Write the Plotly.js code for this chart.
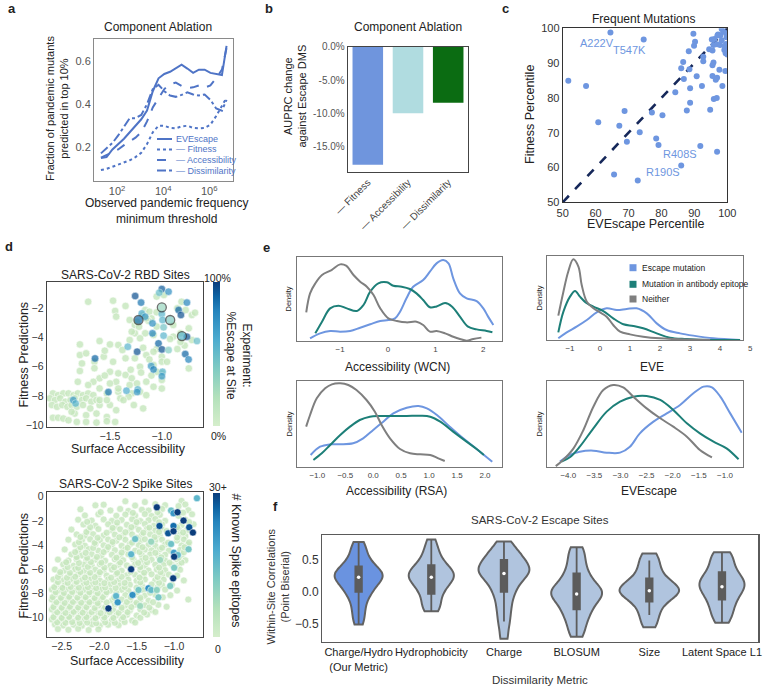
<!DOCTYPE html>
<html><head><meta charset="utf-8">
<script src="https://cdn.plot.ly/plotly-3.0.1.min.js"></script>
<style>html,body{margin:0;padding:0;background:#fff}#chart{width:771px;height:691px}</style>
</head><body><div id="chart"></div>
<script>
// ================= DATA =================
// (a) Component ablation: fraction of pandemic mutants predicted in top 10%
const thresholds = [20,35,63,112,200,355,631,1122,1995,3548,6310,11220,19953,35481,63096,112202,199526,354813,630957,1122018,1995262,3548134,5623413];
const fracEVEscape = [0.15,0.155,0.19,0.215,0.24,0.27,0.30,0.33,0.37,0.46,0.52,0.54,0.55,0.565,0.583,0.565,0.545,0.56,0.56,0.545,0.54,0.535,0.67];
const fracNoFitness = [0.095,0.10,0.11,0.12,0.13,0.14,0.155,0.175,0.215,0.27,0.30,0.30,0.29,0.288,0.297,0.30,0.29,0.288,0.29,0.305,0.345,0.395,0.43];
const fracNoAccessibility = [0.152,0.165,0.18,0.19,0.21,0.228,0.245,0.27,0.32,0.385,0.43,0.47,0.492,0.50,0.485,0.475,0.478,0.487,0.476,0.487,0.52,0.56,0.66];
const fracNoDissimilarity = [0.172,0.195,0.22,0.255,0.295,0.335,0.335,0.35,0.40,0.47,0.49,0.46,0.44,0.434,0.443,0.455,0.445,0.44,0.445,0.42,0.38,0.37,0.42];
const ablationLabels = ['EVEscape','— Fitness','— Accessibility','— Dissimilarity'];

// (b) AUPRC change
const auprcCats = ['— Fitness','— Accessibility','— Dissimilarity'];
const auprcChange = [-17.7,-10.0,-8.4];

// (c) Frequent mutations [EVEscape percentile, Fitness percentile]
const freqMutations = [[51.7,84.9],[57.1,83.4],[60.8,73.0],[64.5,98.8],[65.6,58.0],[67.2,72.0],[68.8,76.2],[69.5,67.4],[73.4,70.1],[72.8,56.3],[74.6,96.8],[77.1,75.8],[78.4,68.3],[79.1,66.5],[80.3,75.0],[84.2,81.6],[86.0,60.6],[86.0,88.5],[86.6,90.3],[86.8,85.4],[87.7,76.4],[88.3,93.4],[88.5,88.2],[88.7,82.8],[88.7,78.6],[89.7,98.4],[89.9,95.0],[90.2,96.1],[90.7,86.2],[91.8,66.2],[92.3,83.4],[92.7,90.5],[92.7,91.8],[94.8,76.6],[94.5,94.0],[95.3,96.8],[95.5,93.6],[95.5,89.4],[95.5,86.3],[95.8,90.2],[95.9,79.7],[96.5,85.2],[96.8,80.0],[96.9,85.8],[96.9,64.5],[96.9,95.4],[97.2,98.2],[97.6,88.1],[97.9,98.0],[97.8,95.2],[98.3,99.8],[98.3,96.6],[98.5,83.4],[98.8,99.0],[99.1,93.8],[99.4,87.7],[99.5,92.8],[99.6,95.5],[99.7,98.6],[99.8,97.4],[99.3,94.6],[100,92.5],[96.1,96.9],[97.0,97.9],[95.8,95.2]];
const mutLabels = ['A222V','T547K','R408S','R190S'];
const mutLabelX = [60.4,70.4,85.6,80.4];
const mutLabelY = [95.9,93.8,63.9,58.6];
const diagonal = [50,100];

// (d) RBD sites: [surface accessibility, fitness prediction]
const rbdLight = [[-1.71,-1.55],[-1.47,-1.48],[-1.35,-1.84],[-1.45,-2.18],[-1.44,-2.57],[-1.05,-1.20],[-0.98,-1.09],[-0.81,-1.55],[-0.71,-2.46],[-0.77,-2.12],[-0.68,-2.30],[-1.31,-2.80],[-1.16,-2.12],[-1.12,-2.23],[-1.18,-2.46],[-1.05,-2.27],[-1.10,-2.69],[-0.85,-2.00],[-1.13,-2.85],[-1.26,-3.14],[-1.24,-2.92],[-1.15,-2.69],[-1.22,-3.26],[-1.26,-3.71],[-1.16,-3.71],[-1.05,-3.25],[-0.89,-3.14],[-0.74,-3.37],[-0.71,-4.17],[-0.82,-3.71],[-0.89,-3.94],[-1.08,-3.83],[-1.29,-3.60],[-0.85,-4.79],[-1.05,-4.79],[-1.00,-5.31],[-1.00,-5.65],[-1.00,-6.45],[-1.00,-6.90],[-1.21,-6.00],[-1.26,-5.42],[-1.15,-5.20],[-1.08,-4.97],[-1.21,-4.05],[-1.31,-4.17],[-1.42,-4.51],[-1.50,-4.47],[-1.60,-4.24],[-1.79,-4.47],[-1.79,-5.20],[-1.73,-5.08],[-1.77,-5.77],[-1.65,-5.66],[-1.56,-5.31],[-1.47,-5.66],[-1.35,-5.42],[-1.50,-6.34],[-1.42,-6.45],[-1.35,-6.56],[-1.29,-6.79],[-1.24,-7.14],[-1.15,-7.02],[-1.08,-7.37],[-1.00,-7.49],[-1.44,-7.03],[-1.50,-7.14],[-1.60,-6.79],[-1.66,-7.03],[-1.71,-7.25],[-1.81,-7.03],[-1.79,-6.29],[-1.60,-7.48],[-1.53,-7.82],[-1.42,-7.71],[-1.29,-7.82],[-1.21,-7.71],[-1.15,-7.94],[-1.32,-8.05],[-1.40,-8.16],[-2.05,-7.82],[-2.00,-7.94],[-1.95,-7.82],[-1.90,-7.82],[-1.85,-7.94],[-1.81,-7.82],[-1.76,-7.94],[-1.71,-7.82],[-1.66,-7.94],[-2.08,-8.16],[-2.03,-8.28],[-1.98,-8.16],[-1.93,-8.39],[-1.88,-8.28],[-1.84,-8.16],[-1.77,-8.28],[-1.73,-8.16],[-1.68,-8.39],[-1.63,-8.28],[-2.06,-8.62],[-2.01,-8.74],[-1.96,-8.62],[-1.91,-8.74],[-1.87,-8.62],[-1.82,-8.74],[-1.76,-8.62],[-1.69,-8.85],[-1.60,-8.62],[-1.50,-8.62],[-1.44,-8.97],[-1.27,-8.62],[-1.18,-8.85],[-1.73,-9.31],[-1.63,-9.20],[-1.53,-9.43],[-1.84,-9.20],[-2.05,-9.49],[-2.00,-9.49],[-1.95,-9.54],[-1.90,-9.66],[-1.82,-9.77],[-1.73,-9.77],[-1.63,-9.82],[-1.53,-9.72],[-1.45,-9.77],[-1.87,-9.08],[-1.60,-8.28],[-1.53,-8.28],[-1.37,-8.28],[-1.42,-7.49],[-1.31,-7.25],[-1.08,-5.88],[-1.05,-6.34],[-0.95,-5.66],[-0.74,-6.11],[-0.78,-4.55],[-0.82,-4.30],[-1.18,-4.70],[-1.38,-4.85],[-1.55,-4.90],[-1.65,-6.10],[-1.55,-6.60],[-1.20,-6.40],[-1.10,-6.60],[-1.30,-6.20],[-1.12,-5.50],[-0.92,-4.10]];
// [x, y, fraction escape at site (0-1), highlighted 0/1]
const rbdEscape = [[-1.00,-0.68,0.92,0],[-1.025,-0.93,0.5,0],[-0.935,-0.86,0.75,0],[-1.257,-1.16,0.95,0],[-1.20,-1.61,0.85,0],[-1.193,-2.35,0.6,0],[-1.161,-2.57,0.7,0],[-1.09,-3.03,0.75,0],[-1.00,-2.39,0.55,0],[-0.993,-2.80,0.55,0],[-1.09,-3.71,0.8,0],[-0.983,-3.30,0.45,0],[-0.983,-3.87,0.55,0],[-1.032,-4.40,0.9,0],[-0.999,-4.81,0.95,0],[-0.935,-4.86,0.4,0],[-1.238,-4.97,0.95,0],[-1.328,-4.63,0.55,0],[-1.103,-5.95,0.7,0],[-1.08,-6.18,0.8,0],[-0.993,-6.34,0.55,0],[-0.999,-6.64,0.7,0],[-0.838,-2.12,0.9,0],[-0.816,-2.46,0.95,0],[-0.758,-1.61,0.8,0],[-0.758,-3.94,0.95,0],[-0.774,-5.13,0.9,0],[-0.742,-5.50,0.8,0],[-1.644,-5.43,0.9,0],[-1.515,-7.73,0.85,0],[-1.341,-7.64,0.6,0],[-1.232,-7.55,0.55,0],[-1.238,-7.73,0.7,0],[-1.854,-8.28,0.7,0],[-1.831,-8.51,0.55,0],[-0.661,-4.24,0.5,0],[-1.225,-2.80,0.88,1],[-1.00,-1.93,0.3,1],[-0.919,-2.80,0.4,1],[-0.806,-3.90,0.55,1]];

// (d) Spike sites
const spikeLight = [[-1.65,-0.38],[-1.39,-0.45],[-0.90,-0.35],[-2.05,-0.72],[-1.94,-0.66],[-1.52,-0.74],[-1.25,-0.62],[-1.12,-0.70],[-0.94,-0.78],[-0.85,-0.65],[-2.25,-1.05],[-1.85,-1.14],[-1.72,-1.02],[-1.61,-1.18],[-1.43,-1.08],[-1.34,-1.15],[-1.16,-1.02],[-0.81,-1.12],[-2.19,-1.55],[-2.01,-1.45],[-1.77,-1.58],[-1.65,-1.48],[-1.52,-1.56],[-1.39,-1.44],[-1.30,-1.60],[-1.19,-1.50],[-0.94,-1.58],[-0.76,-1.46],[-2.28,-1.90],[-2.10,-1.98],[-1.94,-1.88],[-1.83,-2.00],[-1.70,-1.92],[-1.56,-1.86],[-1.45,-2.02],[-1.34,-1.95],[-1.25,-1.85],[-1.12,-2.00],[-0.85,-1.90],[-2.21,-2.30],[-2.05,-2.40],[-1.88,-2.28],[-1.77,-2.42],[-1.63,-2.32],[-1.52,-2.38],[-1.39,-2.26],[-1.27,-2.40],[-1.16,-2.30],[-0.90,-2.35],[-0.74,-2.28],[-2.37,-2.72],[-2.14,-2.80],[-2.01,-2.68],[-1.83,-2.78],[-1.72,-2.70],[-1.59,-2.82],[-1.47,-2.74],[-1.36,-2.66],[-1.25,-2.80],[-1.16,-2.72],[-1.10,-2.84],[-0.94,-2.70],[-0.83,-2.78],[-2.30,-3.12],[-2.19,-3.22],[-2.08,-3.10],[-1.94,-3.20],[-1.79,-3.14],[-1.68,-3.24],[-1.56,-3.12],[-1.43,-3.18],[-1.32,-3.10],[-1.19,-3.22],[-0.92,-3.15],[-0.85,-3.25],[-2.41,-3.55],[-2.23,-3.62],[-2.12,-3.52],[-1.99,-3.60],[-1.88,-3.54],[-1.77,-3.64],[-1.65,-3.56],[-1.45,-3.62],[-1.39,-3.52],[-1.25,-3.60],[-1.16,-3.55],[-0.96,-3.62],[-0.87,-3.54],[-2.32,-3.95],[-2.19,-4.05],[-2.05,-3.92],[-1.94,-4.02],[-1.83,-3.96],[-1.70,-4.06],[-1.59,-3.94],[-1.47,-4.02],[-1.34,-3.98],[-1.25,-4.08],[-1.12,-3.96],[-0.90,-4.04],[-0.81,-3.94],[-2.46,-4.36],[-2.28,-4.44],[-2.14,-4.34],[-2.01,-4.46],[-1.90,-4.38],[-1.79,-4.42],[-1.65,-4.34],[-1.52,-4.46],[-1.39,-4.38],[-1.30,-4.44],[-1.19,-4.36],[-1.07,-4.46],[-0.92,-4.40],[-2.37,-4.78],[-2.23,-4.86],[-2.10,-4.76],[-1.97,-4.88],[-1.83,-4.80],[-1.72,-4.86],[-1.61,-4.76],[-1.43,-4.84],[-1.32,-4.78],[-1.21,-4.88],[-1.12,-4.80],[-0.90,-4.86],[-2.55,-5.20],[-2.41,-5.28],[-2.30,-5.18],[-2.17,-5.26],[-2.05,-5.20],[-1.92,-5.30],[-1.79,-5.18],[-1.68,-5.26],[-1.54,-5.20],[-1.43,-5.30],[-1.30,-5.22],[-1.12,-5.28],[-0.96,-5.20],[-0.85,-5.26],[-2.48,-5.60],[-2.34,-5.70],[-2.21,-5.62],[-2.10,-5.68],[-1.99,-5.58],[-1.85,-5.70],[-1.74,-5.62],[-1.63,-5.68],[-1.52,-5.60],[-1.39,-5.70],[-1.25,-5.62],[-1.14,-5.66],[-1.03,-5.60],[-0.94,-5.70],[-2.59,-6.02],[-2.46,-6.10],[-2.32,-6.00],[-2.19,-6.12],[-2.05,-6.04],[-1.94,-6.10],[-1.83,-6.02],[-1.70,-6.12],[-1.45,-6.04],[-1.34,-6.10],[-1.23,-6.02],[-1.12,-6.08],[-0.92,-6.04],[-2.52,-6.44],[-2.39,-6.52],[-2.28,-6.42],[-2.14,-6.50],[-2.01,-6.44],[-1.90,-6.52],[-1.77,-6.42],[-1.63,-6.50],[-1.52,-6.46],[-1.41,-6.54],[-1.30,-6.42],[-1.16,-6.50],[-1.07,-6.44],[-0.96,-6.52],[-2.61,-6.84],[-2.48,-6.92],[-2.37,-6.82],[-2.23,-6.90],[-2.12,-6.86],[-1.99,-6.94],[-1.88,-6.84],[-1.74,-6.92],[-1.61,-6.86],[-1.50,-6.94],[-1.39,-6.84],[-1.25,-6.90],[-1.14,-6.86],[-0.87,-6.92],[-2.57,-7.26],[-2.46,-7.34],[-2.32,-7.24],[-2.21,-7.32],[-2.10,-7.28],[-1.99,-7.36],[-1.85,-7.26],[-1.72,-7.34],[-1.59,-7.28],[-1.43,-7.34],[-1.30,-7.26],[-1.16,-7.32],[-1.03,-7.28],[-2.63,-7.68],[-2.52,-7.76],[-2.41,-7.66],[-2.30,-7.74],[-2.19,-7.70],[-2.08,-7.78],[-1.97,-7.68],[-1.85,-7.76],[-1.70,-7.70],[-1.61,-7.78],[-1.41,-7.72],[-1.12,-7.68],[-0.96,-7.76],[-2.59,-8.10],[-2.48,-8.18],[-2.37,-8.08],[-2.25,-8.16],[-2.14,-8.10],[-2.03,-8.18],[-1.92,-8.08],[-1.65,-8.14],[-1.52,-8.08],[-1.39,-8.18],[-1.25,-8.10],[-1.05,-8.14],[-2.63,-8.50],[-2.52,-8.58],[-2.41,-8.48],[-2.30,-8.56],[-2.19,-8.52],[-2.08,-8.60],[-1.97,-8.50],[-1.83,-8.58],[-1.70,-8.50],[-1.59,-8.56],[-1.45,-8.52],[-1.34,-8.60],[-0.81,-8.50],[-2.59,-8.92],[-2.48,-9.00],[-2.37,-8.90],[-2.25,-8.98],[-2.14,-8.92],[-2.01,-9.00],[-1.79,-8.94],[-1.65,-9.00],[-1.52,-8.92],[-1.39,-8.98],[-1.21,-8.94],[-2.63,-9.32],[-2.52,-9.40],[-2.41,-9.30],[-2.30,-9.38],[-2.19,-9.34],[-2.05,-9.42],[-1.94,-9.32],[-1.81,-9.40],[-1.70,-9.34],[-1.59,-9.40],[-1.45,-9.32],[-1.30,-9.38],[-2.59,-9.74],[-2.48,-9.82],[-2.37,-9.72],[-2.25,-9.80],[-2.14,-9.76],[-2.01,-9.84],[-1.90,-9.74],[-1.77,-9.80],[-1.63,-9.76],[-1.50,-9.82],[-1.36,-9.74],[-2.63,-10.15],[-2.52,-10.24],[-2.41,-10.14],[-2.30,-10.22],[-2.19,-10.16],[-2.08,-10.24],[-1.94,-10.14],[-1.83,-10.22],[-1.70,-10.16],[-1.56,-10.24],[-2.59,-10.56],[-2.48,-10.64],[-2.34,-10.58],[-2.23,-10.66],[-2.10,-10.56],[-1.99,-10.64],[-1.88,-10.58],[-1.74,-10.62],[-2.55,-10.94],[-2.41,-11.00],[-2.28,-10.92],[-2.14,-11.02],[-2.01,-10.96],
[-2.56,-10.38],[-2.45,-10.42],[-2.36,-10.36],[-2.26,-10.44],[-2.16,-10.40],[-2.04,-10.46],[-1.92,-10.38],[-1.79,-10.42],[-1.66,-10.36],[-1.52,-10.40],[-2.61,-9.96],[-2.50,-10.02],[-2.40,-9.94],[-2.28,-10.00],[-2.17,-9.96],[-2.05,-10.04],[-1.93,-9.98],[-1.81,-10.02],[-1.68,-9.96],[-1.45,-10.00],[-2.56,-9.55],[-2.45,-9.60],[-2.34,-9.52],[-2.22,-9.58],[-2.10,-9.54],[-1.98,-9.62],[-1.86,-9.55],[-1.74,-9.60],[-1.62,-9.54],[-1.40,-9.58],[-1.25,-9.52],[-2.61,-9.12],[-2.50,-9.18],[-2.39,-9.10],[-2.28,-9.16],[-2.17,-9.12],[-2.06,-9.20],[-1.92,-9.14],[-1.70,-9.18],[-1.57,-9.12],[-1.33,-9.16],[-1.10,-9.10],[-2.57,-8.72],[-2.46,-8.78],[-2.35,-8.70],[-2.24,-8.76],[-2.13,-8.72],[-2.02,-8.80],[-1.90,-8.74],[-1.76,-8.78],[-1.63,-8.70],[-1.50,-8.76],[-1.28,-8.72],[-2.62,-8.30],[-2.51,-8.36],[-2.40,-8.28],[-2.29,-8.34],[-2.18,-8.30],[-2.06,-8.38],[-1.95,-8.30],[-1.80,-8.34],[-1.58,-8.30],[-1.45,-8.36],[-1.15,-8.32],[-2.58,-7.90],[-2.47,-7.96],[-2.36,-7.88],[-2.25,-7.94],[-2.13,-7.90],[-2.02,-7.98],[-1.90,-7.90],[-1.77,-7.94],[-1.50,-7.90],[-1.32,-7.94],[-2.60,-7.48],[-2.49,-7.54],[-2.38,-7.46],[-2.27,-7.52],[-2.15,-7.48],[-2.04,-7.56],[-1.92,-7.50],[-1.78,-7.54],[-1.66,-7.46],[-1.50,-7.52],[-1.22,-7.50],[-2.55,-7.06],[-2.42,-7.12],[-2.30,-7.04],[-2.17,-7.10],[-2.05,-7.08],[-1.93,-7.14],[-1.80,-7.06],[-1.66,-7.12],[-1.45,-7.08],[-1.20,-7.12],[-2.55,-6.64],[-2.43,-6.70],[-2.32,-6.62],[-2.19,-6.68],[-2.06,-6.64],[-1.84,-6.70],[-1.70,-6.62],[-1.46,-6.68],[-1.22,-6.64],[-1.02,-6.70],[-2.52,-6.24],[-2.39,-6.30],[-2.25,-6.22],[-2.12,-6.28],[-1.99,-6.24],[-1.76,-6.30],[-1.58,-6.22],[-1.40,-6.28],[-1.18,-6.24],[-2.42,-5.82],[-2.28,-5.88],[-2.15,-5.80],[-1.93,-5.86],[-1.80,-5.84],[-1.58,-5.88],[-1.45,-5.82],[-1.20,-5.86],[-0.99,-5.82],[-2.44,-5.42],[-2.27,-5.48],[-2.11,-5.40],[-1.97,-5.46],[-1.72,-5.44],[-1.48,-5.48],[-1.36,-5.42],[-1.06,-5.46],[-0.90,-5.44],[-2.30,-5.00],[-2.16,-5.06],[-2.03,-4.98],[-1.77,-5.04],[-1.56,-5.00],[-1.38,-5.06],[-1.17,-5.02],[-0.94,-5.04],[-2.32,-4.58],[-2.18,-4.64],[-1.94,-4.58],[-1.70,-4.62],[-1.46,-4.58],[-1.25,-4.64],[-0.87,-4.60],[-2.25,-4.18],[-2.08,-4.24],[-1.88,-4.16],[-1.62,-4.22],[-1.42,-4.18],[-1.16,-4.22],[-0.86,-4.18],[-2.27,-3.76],[-2.06,-3.82],[-1.82,-3.74],[-1.56,-3.80],[-1.30,-3.76],[-1.08,-3.80],[-0.80,-3.78],[-2.25,-3.34],[-2.02,-3.40],[-1.73,-3.36],[-1.50,-3.40],[-1.26,-3.34],[-0.96,-3.38],[-2.17,-2.92],[-1.90,-2.98],[-1.65,-2.94],[-1.41,-2.98],[-1.20,-2.92],[-0.88,-2.96],[-2.12,-2.52],[-1.82,-2.58],[-1.57,-2.52],[-1.33,-2.56],[-0.96,-2.52],[-2.16,-2.08],[-1.76,-2.14],[-1.50,-2.10],[-1.20,-2.12],[-0.80,-2.10],[-1.98,-1.28],[-1.55,-1.34],[-1.22,-1.28],[-0.88,-1.32]];
// [x, y, number of known spike epitopes]
const spikeEpitopes = [[-0.695,-0.13,16],[-1.23,-0.88,30],[-1.04,-1.15,14],[-1.008,-1.37,21],[-0.954,-1.29,30],[-0.874,-1.98,30],[-1.195,-2.42,28],[-1.008,-2.42,26],[-1.079,-3.03,28],[-1.008,-2.86,30],[-0.798,-2.53,28],[-0.749,-2.97,30],[-1.04,-3.91,14],[-1.003,-4.63,20],[-0.95,-4.82,15],[-0.999,-4.96,30],[-0.807,-4.35,13],[-1.52,-3.50,14],[-1.306,-3.72,9],[-1.573,-4.76,16],[-1.573,-6.00,30],[-1.012,-6.75,30],[-0.999,-5.87,12],[-1.186,-5.23,8],[-1.342,-7.57,22],[-1.306,-7.71,15],[-1.23,-7.71,10],[-1.208,-8.32,13],[-1.475,-7.71,13],[-1.555,-8.12,22],[-1.774,-8.21,16],[-1.752,-8.73,21],[-1.876,-9.23,30],[-1.453,-9.03,8],[-1.052,-7.38,12]];

// (e) density curves [value, density]
const wcnEscape = [[-1.63,0.032],[-1.42,0.091],[-1.21,0.119],[-1.0,0.111],[-0.79,0.119],[-0.58,0.158],[-0.37,0.198],[-0.16,0.237],[0.01,0.249],[0.15,0.269],[0.255,0.348],[0.39,0.506],[0.53,0.644],[0.74,0.723],[0.88,0.822],[1.02,0.921],[1.16,0.96],[1.27,0.921],[1.37,0.743],[1.51,0.565],[1.65,0.506],[1.86,0.474],[2.0,0.387],[2.10,0.289],[2.21,0.19]];
const wcnEpitope = [[-1.52,0.091],[-1.38,0.229],[-1.21,0.387],[-1.035,0.419],[-0.86,0.387],[-0.65,0.356],[-0.51,0.427],[-0.37,0.585],[-0.20,0.684],[-0.02,0.696],[0.115,0.656],[0.29,0.644],[0.46,0.617],[0.60,0.565],[0.74,0.486],[0.88,0.40],[1.02,0.41],[1.20,0.45],[1.34,0.41],[1.51,0.289],[1.68,0.17],[1.86,0.138],[2.07,0.119],[2.19,0.103]];
const wcnNeither = [[-1.71,0.34],[-1.63,0.565],[-1.52,0.684],[-1.38,0.783],[-1.18,0.842],[-1.0,0.909],[-0.875,0.893],[-0.72,0.783],[-0.58,0.704],[-0.44,0.644],[-0.30,0.545],[-0.16,0.387],[0.01,0.269],[0.19,0.237],[0.39,0.221],[0.60,0.229],[0.74,0.19],[0.88,0.111],[1.02,0.119],[1.20,0.091],[1.37,0.051],[1.51,0.024],[1.65,0.004],[1.79,0.024],[1.96,0.04]];
const eveEscape = [[-1.39,0.02],[-1.11,0.091],[-0.78,0.159],[-0.44,0.238],[-0.11,0.329],[0.22,0.377],[0.56,0.357],[0.89,0.369],[1.22,0.377],[1.56,0.317],[1.89,0.198],[2.22,0.119],[2.67,0.079],[3.11,0.052],[3.78,0.02],[4.67,0.0]];
const eveEpitope = [[-1.39,0.091],[-1.22,0.337],[-1.0,0.516],[-0.83,0.583],[-0.67,0.516],[-0.44,0.437],[-0.22,0.397],[0.11,0.345],[0.44,0.258],[0.78,0.187],[1.11,0.167],[1.44,0.139],[1.89,0.079],[2.33,0.028],[2.89,0.012],[3.67,0.0],[4.67,0.0]];
const eveNeither = [[-1.39,0.29],[-1.22,0.575],[-1.06,0.813],[-0.89,0.96],[-0.72,0.873],[-0.61,0.655],[-0.44,0.456],[-0.22,0.377],[0.0,0.329],[0.22,0.278],[0.44,0.179],[0.67,0.099],[1.0,0.067],[1.44,0.04],[2.0,0.02],[2.67,0.008],[3.67,0.0]];
const rsaEscape = [[-1.12,0.10],[-0.95,0.20],[-0.77,0.228],[-0.59,0.228],[-0.36,0.24],[-0.18,0.30],[0.0,0.40],[0.18,0.50],[0.36,0.60],[0.60,0.667],[0.81,0.688],[0.96,0.66],[1.14,0.58],[1.37,0.44],[1.61,0.30],[1.85,0.172],[2.13,0.02]];
const rsaEpitope = [[-1.07,0.04],[-0.92,0.12],[-0.77,0.22],[-0.59,0.34],[-0.415,0.44],[-0.24,0.52],[-0.06,0.56],[0.12,0.568],[0.36,0.568],[0.60,0.568],[0.84,0.571],[1.02,0.56],[1.20,0.50],[1.43,0.38],[1.67,0.26],[1.85,0.172],[1.98,0.10]];
const rsaNeither = [[-1.20,0.44],[-1.13,0.58],[-1.01,0.78],[-0.86,0.90],[-0.74,0.948],[-0.59,0.96],[-0.445,0.94],[-0.30,0.88],[-0.12,0.76],[0.03,0.62],[0.15,0.46],[0.30,0.30],[0.48,0.172],[0.66,0.12],[0.84,0.108],[1.02,0.10],[1.165,0.06],[1.28,0.028]];
const escScoreEscape = [[-4.16,0.062],[-3.97,0.139],[-3.78,0.177],[-3.52,0.189],[-3.265,0.166],[-3.01,0.166],[-2.82,0.235],[-2.63,0.389],[-2.37,0.524],[-2.115,0.62],[-1.86,0.717],[-1.605,0.852],[-1.41,0.929],[-1.25,0.921],[-1.09,0.813],[-0.90,0.62],[-0.68,0.397]];
const escScoreEpitope = [[-4.13,0.062],[-3.97,0.112],[-3.78,0.235],[-3.52,0.447],[-3.265,0.64],[-3.01,0.755],[-2.755,0.813],[-2.50,0.821],[-2.24,0.775],[-1.99,0.659],[-1.73,0.505],[-1.48,0.389],[-1.22,0.293],[-0.97,0.216],[-0.74,0.089]];
const escScoreNeither = [[-4.24,0.01],[-4.10,0.081],[-3.90,0.216],[-3.71,0.428],[-3.52,0.697],[-3.33,0.89],[-3.14,0.948],[-2.95,0.921],[-2.755,0.813],[-2.50,0.678],[-2.24,0.563],[-1.99,0.466],[-1.73,0.351],[-1.48,0.197],[-1.25,0.112]];
const groupNames = ['Escape mutation','Mutation in antibody epitope','Neither'];

// (f) within-site correlations
const metrics = ['Charge/Hydro<br>(Our Metric)','Hydrophobicity','Charge','BLOSUM','Size','Latent Space L1'];
const corrChargeHydro = [-0.52,-0.42,-0.32,-0.24,-0.15,-0.08,-0.03,0.0,0.04,0.08,0.12,0.15,0.18,0.2,0.22,0.23,0.25,0.27,0.29,0.31,0.34,0.37,0.4,0.44,0.49,0.55,0.62,0.7,0.77];
const corrHydrophobicity = [-0.31,-0.27,-0.22,-0.15,-0.08,-0.03,0.02,0.06,0.1,0.13,0.16,0.19,0.21,0.23,0.25,0.27,0.29,0.31,0.34,0.37,0.4,0.44,0.49,0.55,0.62,0.7,0.81];
const corrCharge = [-0.74,-0.55,-0.42,-0.3,-0.2,-0.1,-0.02,0.04,0.1,0.15,0.2,0.24,0.27,0.29,0.31,0.34,0.37,0.4,0.43,0.46,0.5,0.54,0.58,0.63,0.69,0.78];
const corrBlosum = [-0.71,-0.6,-0.5,-0.42,-0.35,-0.29,-0.24,-0.19,-0.14,-0.1,-0.07,-0.04,-0.02,0.01,0.04,0.08,0.12,0.17,0.23,0.3,0.38,0.48,0.58,0.69];
const corrSize = [-0.56,-0.45,-0.36,-0.27,-0.2,-0.14,-0.1,-0.06,-0.03,-0.01,0.01,0.03,0.05,0.08,0.11,0.15,0.2,0.26,0.33,0.42,0.5,0.59];
const corrLatent = [-0.49,-0.4,-0.32,-0.25,-0.18,-0.12,-0.07,-0.02,0.02,0.06,0.09,0.12,0.15,0.19,0.23,0.28,0.33,0.4,0.48,0.55,0.61];
const boxQ1 = [-0.01,-0.04,-0.01,-0.28,-0.16,-0.13];
const boxMedian = [0.22,0.22,0.28,-0.04,0.01,0.07];
const boxQ3 = [0.39,0.41,0.49,0.28,0.20,0.30];
const boxLow = [-0.52,-0.31,-0.47,-0.70,-0.37,-0.49];
const boxHigh = [0.76,0.80,0.77,0.69,0.48,0.61];

// ================= DRAWING =================
const W = 771, H = 691;
const FONT = 'Liberation Sans, Arial, Helvetica, sans-serif';
const xd = (a, b) => [a / W, b / W];
const yd = (top, bottom) => [1 - bottom / H, 1 - top / H];
const col = (arr, i) => arr.map(r => r[i]);

const BLUE_A = '#4f74c6';
const BLUE = '#6e96e0';
const TEAL = '#1d7f78';
const GRAY = '#7f7f7f';
const GNBU = [[0,'#d5eecb'],[0.2,'#b3e1bb'],[0.4,'#7fcbc3'],[0.6,'#4daccf'],[0.8,'#2584bd'],[0.9,'#0d63a3'],[1,'#0b3d7c']];

const traces = [];
// (a)
const aDash = ['solid','dot','dash','dashdot'];
[fracEVEscape, fracNoFitness, fracNoAccessibility, fracNoDissimilarity].forEach((s, i) => {
  traces.push({type:'scatter', mode:'lines', x:thresholds, y:s, xaxis:'x', yaxis:'y',
    line:{color:BLUE_A, width:2, dash:aDash[i]}, name:ablationLabels[i], showlegend:false});
});
// (b)
traces.push({type:'bar', x:auprcCats, y:auprcChange, xaxis:'x2', yaxis:'y2', width:0.76,
  marker:{color:['#6f95dd','#b0dce0','#0b6c12']}, showlegend:false});
// (c)
traces.push({type:'scatter', mode:'lines', x:diagonal, y:diagonal, xaxis:'x3', yaxis:'y3',
  line:{color:'#16285a', width:2.6, dash:'dash'}, showlegend:false});
traces.push({type:'scatter', mode:'markers', x:col(freqMutations,0), y:col(freqMutations,1), xaxis:'x3', yaxis:'y3',
  marker:{color:BLUE, size:6}, showlegend:false});
// (d) RBD
traces.push({type:'scatter', mode:'markers', x:col(rbdLight,0), y:col(rbdLight,1), xaxis:'x4', yaxis:'y4',
  marker:{color:'rgba(196,230,188,0.8)', size:7.5, line:{color:'#ffffff', width:0.6}}, showlegend:false});
traces.push({type:'scatter', mode:'markers', x:col(rbdEscape,0), y:col(rbdEscape,1), xaxis:'x4', yaxis:'y4',
  marker:{color:col(rbdEscape,2), cmin:0, cmax:1, colorscale:GNBU, size:rbdEscape.map(r=>r[3]?9:7.5),
    line:{color:rbdEscape.map(r=>r[3]?'#333333':'#ffffff'), width:rbdEscape.map(r=>r[3]?1.3:0.5)},
    showscale:true, colorbar:{x:213/W, xanchor:'left', y:1-354.5/H, yanchor:'middle', len:144.4/H, lenmode:'fraction',
      thickness:7, outlinewidth:0, showticklabels:false, ticks:'', xpad:0, ypad:0}}, showlegend:false});
// (d) Spike
traces.push({type:'scatter', mode:'markers', x:col(spikeLight,0), y:col(spikeLight,1), xaxis:'x5', yaxis:'y5',
  marker:{color:'rgba(196,230,188,0.8)', size:7, line:{color:'#ffffff', width:0.6}}, showlegend:false});
traces.push({type:'scatter', mode:'markers', x:col(spikeEpitopes,0), y:col(spikeEpitopes,1), xaxis:'x5', yaxis:'y5',
  marker:{color:col(spikeEpitopes,2), cmin:0, cmax:30, colorscale:GNBU, size:7, line:{color:'#ffffff', width:0.5},
    showscale:true, colorbar:{x:213/W, xanchor:'left', y:1-564.5/H, yanchor:'middle', len:144.4/H, lenmode:'fraction',
      thickness:7, outlinewidth:0, showticklabels:false, ticks:'', xpad:0, ypad:0}}, showlegend:false});
// (e)
const eSets = [
  [[wcnEscape, wcnEpitope, wcnNeither], 'x6', 'y6'],
  [[eveEscape, eveEpitope, eveNeither], 'x7', 'y7'],
  [[rsaEscape, rsaEpitope, rsaNeither], 'x8', 'y8'],
  [[escScoreEscape, escScoreEpitope, escScoreNeither], 'x9', 'y9']];
const eCols = [BLUE, TEAL, GRAY];
eSets.forEach(([curves, xa, ya]) => {
  curves.forEach((c, i) => traces.push({type:'scatter', mode:'lines', x:col(c,0), y:col(c,1), xaxis:xa, yaxis:ya,
    line:{color:eCols[i], width:2, shape:'spline', smoothing:1}, name:groupNames[i], showlegend:false}));
});
// (f)
const fSamples = [corrChargeHydro, corrHydrophobicity, corrCharge, corrBlosum, corrSize, corrLatent];
const fWidth = [0.66, 0.62, 0.70, 0.70, 0.82, 0.62];
fSamples.forEach((s, i) => traces.push({type:'violin', x:s.map(() => metrics[i]), y:s, xaxis:'x10', yaxis:'y10',
  spanmode:'hard', bandwidth:0.11, points:false, box:{visible:false}, meanline:{visible:false},
  width:fWidth[i], scalemode:'width', fillcolor: i === 0 ? '#6a93e0' : '#b0c4de', opacity:1,
  line:{color:'#626262', width:2}, showlegend:false, name:metrics[i]}));
traces.push({type:'box', x:metrics, q1:boxQ1, median:boxMedian, q3:boxQ3, lowerfence:boxLow, upperfence:boxHigh,
  xaxis:'x10', yaxis:'y10', width:0.09, whiskerwidth:0, fillcolor:'#5c5c5c', line:{color:'#5c5c5c', width:1.8},
  boxpoints:false, showlegend:false});
traces.push({type:'scatter', mode:'markers', x:metrics, y:boxMedian, xaxis:'x10', yaxis:'y10',
  marker:{color:'#ffffff', size:3.5}, showlegend:false});

// ---- axes ----
function ax(domain, anchor, lc, lw, extra) {
  return Object.assign({domain, anchor, showline:true, mirror:true, linecolor:lc, linewidth:lw,
    showgrid:false, zeroline:false, ticks:'', fixedrange:true}, extra);
}
const tf = (size, color) => ({family:FONT, size, color});

const layout = {
  width:W, height:H, margin:{l:0,r:0,t:0,b:0}, paper_bgcolor:'#ffffff', plot_bgcolor:'#ffffff',
  font:{family:FONT, color:'#222'}, showlegend:false, violinmode:'overlay', boxmode:'overlay', bargap:0.2,
  xaxis: ax(xd(94,233),'y','#8a8a8a',1,{type:'log', range:[1.0,7.03], tickvals:[100,1e4,1e6],
    ticktext:['10<sup>2</sup>','10<sup>4</sup>','10<sup>6</sup>'], tickfont:tf(11,'#555')}),
  yaxis: ax(yd(39,181),'x','#8a8a8a',1,{range:[0.044,0.702], tickvals:[0.2,0.4,0.6], tickformat:'.1f', tickfont:tf(11,'#555')}),
  xaxis2: ax(xd(347.7,468.3),'y2','#444',1,{type:'category', range:[-0.5,2.5], tickangle:-45, tickfont:tf(10,'#444')}),
  yaxis2: ax(yd(46.7,171.7),'x2','#444',1,{range:[-18.75,0], tickvals:[0,-5,-10,-15],
    ticktext:['0.0%','-5.0%','-10.0%','-15.0%'], tickfont:tf(10,'#555')}),
  xaxis3: ax(xd(562.7,727.3),'y3','#333',1,{range:[50,100], dtick:10, tickfont:tf(11,'#333')}),
  yaxis3: ax(yd(28.3,202.3),'x3','#333',1,{range:[50,100], dtick:10, tickfont:tf(11,'#333')}),
  xaxis4: ax(xd(46.7,203.3),'y4','#444',1,{range:[-2.11,-0.60], tickvals:[-1.5,-1.0], tickformat:'.1f', tickfont:tf(10.5,'#333')}),
  yaxis4: ax(yd(282.3,426.7),'x4','#444',1,{range:[-10.1,-0.22], tickvals:[-2,-4,-6,-8,-10], tickfont:tf(10.5,'#333')}),
  xaxis5: ax(xd(46.7,203.3),'y5','#444',1,{range:[-2.70,-0.61], tickvals:[-2.5,-2.0,-1.5,-1.0], tickformat:'.1f', tickfont:tf(10.5,'#333')}),
  yaxis5: ax(yd(492.3,636.7),'x5','#444',1,{range:[-11.57,0.36], tickvals:[0,-2,-4,-6,-8,-10], tickfont:tf(10.5,'#333')}),
  xaxis6: ax(xd(296.7,501.7),'y6','#777',1,{range:[-1.91,2.385], tickvals:[-1,0,1,2], tickfont:tf(8,'#444')}),
  yaxis6: ax(yd(256.7,341),'x6','#777',1,{range:[0,1], showticklabels:false}),
  xaxis7: ax(xd(547.3,742.7),'y7','#777',1,{range:[-1.757,4.757], tickvals:[-1,0,1,2,3,4], tickfont:tf(8,'#444')}),
  yaxis7: ax(yd(256,340),'x7','#777',1,{range:[0,1], showticklabels:false}),
  xaxis8: ax(xd(296.7,501.7),'y8','#777',1,{range:[-1.369,2.299], tickvals:[-1,-0.5,0,0.5,1,1.5,2], tickformat:'.1f', tickfont:tf(8,'#444')}),
  yaxis8: ax(yd(380.5,467),'x8','#777',1,{range:[-0.044,0.994], showticklabels:false}),
  xaxis9: ax(xd(547.3,742.7),'y9','#777',1,{range:[-4.402,-0.661], tickvals:[-4,-3.5,-3,-2.5,-2,-1.5,-1], tickformat:'.1f', tickfont:tf(8,'#444')}),
  yaxis9: ax(yd(380.5,467),'x9','#777',1,{range:[0,1], showticklabels:false}),
  xaxis10: ax(xd(322.3,758.3),'y10','#5a5a5a',1.3,{type:'category', range:[-0.5,5.5], tickangle:0, tickfont:tf(11,'#222')}),
  yaxis10: ax(yd(535,641.7),'x10','#5a5a5a',1.3,{range:[-0.787,0.88], tickvals:[-0.5,0,0.5], tickformat:'.1f', tickfont:tf(12,'#333')}),
};

// ---- annotations ----
function A(text, px, py, size, o) {
  return Object.assign({text, x:px/W, y:1-py/H, xref:'paper', yref:'paper', showarrow:false,
    xanchor:'center', yanchor:'middle', font:{family:FONT, size, color:'#222'}}, o || {});
}
const bold = t => '<b>' + t + '</b>';
const anns = [
  A(bold('a'), 6, 8, 13, {xanchor:'left'}), A(bold('b'), 263, 8, 13, {xanchor:'left'}), A(bold('c'), 500, 8, 13, {xanchor:'left'}),
  A(bold('d'), 3, 246, 13, {xanchor:'left'}), A(bold('e'), 261, 247, 13, {xanchor:'left'}), A(bold('f'), 271, 507, 13, {xanchor:'left'}),
  // a
  A('Component Ablation', 157.5, 27, 12),
  A('Fraction of pandemic mutants<br>predicted in top 10%', 57, 109, 11, {textangle:-90}),
  A('Observed pandemic frequency<br>minimum threshold', 166.7, 211, 12),
  // b
  A('Component Ablation', 407.5, 27, 12),
  A('AUPRC change<br>against Escape DMS', 294, 96.5, 11, {textangle:-90}),
  // c
  A('Frequent Mutations', 643.5, 18.5, 12),
  A('Fitness Percentile', 530, 115, 12.5, {textangle:-90}),
  A('EVEscape Percentile', 645, 224, 12.5),
  // d
  A('SARS-CoV-2 RBD Sites', 125.5, 274.5, 12),
  A('Fitness Predictions', 23.5, 355, 12.5, {textangle:-90}),
  A('Surface Accessibility', 128.5, 449.5, 12.5),
  A('100%', 217, 278, 10.5), A('0%', 218, 436, 10.5),
  A('Experiment:<br>%Escape at Site', 238.5, 355, 12, {textangle:90}),
  A('SARS-CoV-2 Spike Sites', 125, 483.5, 12),
  A('Fitness Predictions', 23.5, 566, 12.5, {textangle:-90}),
  A('Surface Accessibility', 127, 660.5, 12.5),
  A('30+', 218, 487, 10.5), A('0', 218, 648.5, 10.5),
  A('# Known Spike epitopes', 235.5, 560, 12.5, {textangle:90}),
  // e
  A('Density', 288.5, 299, 7.5, {textangle:-90}), A('Density', 538.5, 298, 7.5, {textangle:-90}),
  A('Density', 288.5, 424, 7.5, {textangle:-90}), A('Density', 538.5, 424, 7.5, {textangle:-90}),
  A('Accessibility (WCN)', 397.5, 366.5, 12), A('EVE', 651.5, 366.5, 12),
  A('Accessibility (RSA)', 396.5, 490.5, 12), A('EVEscape', 648.5, 490.5, 12),
  A('5', 750, 348.5, 8, {font:{family:FONT, size:8, color:'#444'}}),
  // f
  A('SARS-CoV-2 Escape Sites', 540, 520, 11.5, {font:{family:FONT, size:11.5, color:'#333'}}),
  A('Within-Site Correlations<br>(Point Biserial)', 277.5, 587, 11, {textangle:-90, font:{family:FONT, size:11, color:'#333'}}),
  A('Dissimilarity Metric', 540, 680, 11.5, {font:{family:FONT, size:11.5, color:'#333'}}),
];
// (c) mutation labels in data coordinates
mutLabels.forEach((t, i) => anns.push({text:t, x:mutLabelX[i], y:mutLabelY[i], xref:'x3', yref:'y3', showarrow:false,
  xanchor:'center', yanchor:'middle', font:{family:FONT, size:11, color:BLUE}}));

// legends (drawn as keys + text)
const shapes = [];
const aRows = [139, 149.5, 160, 170.5];
ablationLabels.forEach((t, i) => {
  shapes.push({type:'line', xref:'paper', yref:'paper', x0:157/W, x1:172/W, y0:1-aRows[i]/H, y1:1-aRows[i]/H,
    line:{color:BLUE_A, width:2, dash:aDash[i]}});
  anns.push(A(t, 174, aRows[i], 9, {xanchor:'left', font:{family:FONT, size:9, color:BLUE_A}}));
});
const eRows = [267.7, 284.3, 299];
groupNames.forEach((t, i) => {
  shapes.push({type:'rect', xref:'paper', yref:'paper', x0:629.5/W, x1:636.5/W, y0:1-(eRows[i]+3.5)/H, y1:1-(eRows[i]-3.5)/H,
    fillcolor:eCols[i], line:{width:0}});
  anns.push(A(t, 640, eRows[i], 8.5, {xanchor:'left', font:{family:FONT, size:8.5, color:'#222'}}));
});
layout.annotations = anns;
layout.shapes = shapes;

Plotly.newPlot('chart', traces, layout, {staticPlot:true, displayModeBar:false});
</script>
</body></html>
